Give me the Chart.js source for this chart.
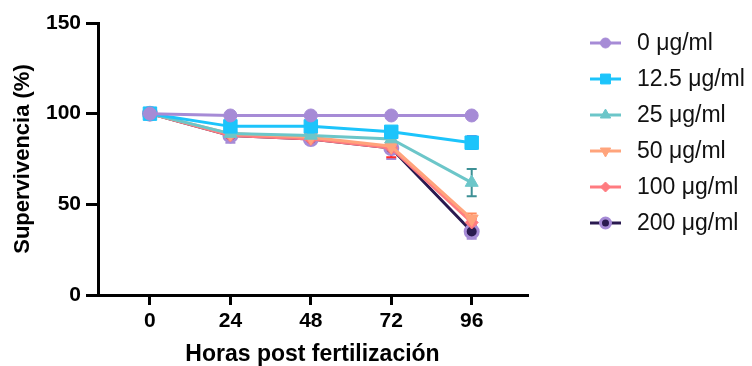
<!DOCTYPE html>
<html>
<head>
<meta charset="utf-8">
<script src="https://cdn.jsdelivr.net/npm/chart.js@4.4.1/dist/chart.umd.min.js"></script>
<style>
  html, body { margin: 0; padding: 0; background: #fff; }
</style>
</head>
<body>
<canvas id="survChart" width="752" height="366"></canvas>
<script>
// data
const hours = [0, 24, 48, 72, 96];
const yTicks = [0, 50, 100, 150];
const doseLabels = ['0 μg/ml', '12.5 μg/ml', '25 μg/ml', '50 μg/ml', '100 μg/ml', '200 μg/ml'];

const surv0   = [100, 99, 99, 99, 99];
const surv12  = [100, 93, 93, 90, 84];
const surv25  = [100, 89, 88, 86, 62];
const surv50  = [100, 89, 87, 82, 42];
const surv100 = [100, 88, 86, 81, 40];
const surv200 = [100, 88, 86, 81, 35];

// error (SD) per point
const err0   = [0, 0, 0, 0, 0];
const err12  = [0, 1, 1, 1, 3.5];
const err25  = [0, 1, 1, 1.5, 7.5];
const err50  = [0, 1.5, 1.5, 3, 3];
const err100 = [0, 2.5, 1.5, 5, 2];
const err200 = [0, 4, 2, 6, 4];

const fontFam = "'Liberation Sans', Arial, sans-serif";

function series(label, vals, errs, color, errColor, style) {
    return {
        label: label,
        data: hours.map((h, i) => ({ x: h, y: vals[i] })),
        errors: errs,
        errColor: errColor,
        borderColor: color,
        backgroundColor: color,
        borderWidth: 3,
        pointBackgroundColor: style.fill || color,
        pointBorderColor: style.border || color,
        pointBorderWidth: style.bw || 1,
        pointStyle: style.shape,
        pointRadius: style.r,
        pointRotation: style.rot || 0,
        legendRadius: style.lr,
        tension: 0
    };
}

const datasets = [
    series(doseLabels[0], surv0, err0, '#a68bd6', '#a68bd6', { shape: 'circle', r: 6.5, lr: 5 }),
    series(doseLabels[1], surv12, err12, '#1cc4fb', '#3b62dc', { shape: 'rect', r: 9.5, lr: 7 }),
    series(doseLabels[2], surv25, err25, '#6cc6c9', '#3d9095', { shape: 'triangle', r: 7.5, lr: 6 }),
    series(doseLabels[3], surv50, err50, '#ffa47c', '#ff8a5c', { shape: 'triangle', r: 7.5, lr: 6, rot: 180 }),
    series(doseLabels[4], surv100, err100, '#ff7b80', '#ff2a2a', { shape: 'rectRot', r: 6.5, lr: 5 }),
    series(doseLabels[5], surv200, err200, '#2a1a50', '#a68bd6', { shape: 'circle', r: 6.5, lr: 5, fill: '#2a1a50', border: '#a68bd6', bw: 3 })
];

// error bars, drawn under the markers
const errorBars = {
    id: 'errorBars',
    beforeDatasetsDraw(chart) {
        const ctx = chart.ctx;
        const yScale = chart.scales.y;
        ctx.save();
        for (let d = chart.data.datasets.length - 1; d >= 0; d--) {
            const ds = chart.data.datasets[d];
            const meta = chart.getDatasetMeta(d);
            ctx.strokeStyle = ds.errColor;
            ctx.lineWidth = 2;
            meta.data.forEach((pt, i) => {
                const e = ds.errors[i];
                if (!e) return;
                const v = ds.data[i].y;
                const top = yScale.getPixelForValue(v + e);
                const bot = yScale.getPixelForValue(v - e);
                ctx.beginPath();
                ctx.moveTo(pt.x, top); ctx.lineTo(pt.x, bot);
                ctx.moveTo(pt.x - 5, top); ctx.lineTo(pt.x + 5, top);
                ctx.moveTo(pt.x - 5, bot); ctx.lineTo(pt.x + 5, bot);
                ctx.stroke();
            });
        }
        ctx.restore();
    }
};

// legend on the right: line + marker + text
const sideLegend = {
    id: 'sideLegend',
    afterDraw(chart) {
        const ctx = chart.ctx;
        ctx.save();
        ctx.font = '23px ' + fontFam;
        ctx.textBaseline = 'middle';
        ctx.textAlign = 'left';
        chart.data.datasets.forEach((ds, i) => {
            const y = 43 + i * 36;
            ctx.strokeStyle = ds.borderColor;
            ctx.lineWidth = 3;
            ctx.beginPath();
            ctx.moveTo(590, y); ctx.lineTo(621, y);
            ctx.stroke();
            ctx.fillStyle = ds.pointBackgroundColor;
            ctx.strokeStyle = ds.pointBorderColor;
            ctx.lineWidth = ds.pointBorderWidth;
            Chart.helpers.drawPoint(ctx, {
                pointStyle: ds.pointStyle,
                radius: ds.legendRadius,
                rotation: ds.pointRotation,
                borderWidth: ds.pointBorderWidth
            }, 605.5, y);
            ctx.fillStyle = '#111';
            ctx.fillText(ds.label, 637, y + 1);
        });
        ctx.restore();
    }
};

new Chart(document.getElementById('survChart'), {
    type: 'line',
    data: { datasets: datasets },
    plugins: [errorBars, sideLegend],
    options: {
        responsive: false,
        animation: false,
        layout: { padding: { top: 23, right: 225, left: 0, bottom: 0 } },
        plugins: { legend: { display: false }, tooltip: { enabled: false } },
        scales: {
            x: {
                type: 'linear',
                min: -15.5,
                max: 112.5,
                afterBuildTicks: (scale) => { scale.ticks = hours.map(v => ({ value: v })); },
                afterFit: (scale) => { scale.height = 71; },
                grid: { drawOnChartArea: false, drawTicks: true, tickLength: 10, color: '#000', lineWidth: 3 },
                border: { color: '#000', width: 3 },
                ticks: { color: '#000', padding: 4, font: { family: fontFam, size: 21, weight: 'bold' } },
                title: {
                    display: true,
                    text: 'Horas post fertilización',
                    color: '#000',
                    padding: { top: 0, bottom: 0 },
                    font: { family: fontFam, size: 23, weight: 'bold', lineHeight: 1 }
                }
            },
            y: {
                min: 0,
                max: 150,
                afterBuildTicks: (scale) => { scale.ticks = yTicks.map(v => ({ value: v })); },
                afterFit: (scale) => { scale.width = 98; },
                grid: { drawOnChartArea: false, drawTicks: true, tickLength: 12, color: '#000', lineWidth: 3 },
                border: { color: '#000', width: 3 },
                ticks: { color: '#000', padding: 5, font: { family: fontFam, size: 21, weight: 'bold' } },
                title: {
                    display: true,
                    text: 'Supervivencia (%)',
                    color: '#000',
                    padding: { top: 10, bottom: 0 },
                    font: { family: fontFam, size: 22, weight: 'bold', lineHeight: 1.2 }
                }
            }
        }
    }
});
</script>
</body>
</html>
